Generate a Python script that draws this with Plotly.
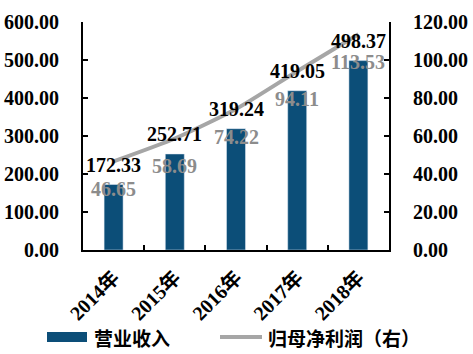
import plotly.graph_objects as go

years = ["2014年", "2015年", "2016年", "2017年", "2018年"]
revenue = [172.33, 252.71, 319.24, 419.05, 498.37]
profit = [46.65, 58.69, 74.22, 94.11, 113.53]
left_ticks = [0, 100, 200, 300, 400, 500, 600]
right_ticks = [0, 20, 40, 60, 80, 100, 120]

BAR = "#0C4E78"
LINE = "#A6A6A6"
NUMF = "Liberation Serif, Times New Roman, serif"
CJKF = "Liberation Serif, Noto Sans CJK SC, serif"

W, H = 473, 354
L, R, T, B = 83, 84, 22, 104
PW, PH = W - L - R, H - T - B

def px(x):
    return (x - L) / PW

def py(y):
    return (H - B - y) / PH

fig = go.Figure()
fig.add_trace(go.Bar(x=years, y=revenue, marker_color=BAR, width=0.31,
                     name="营业收入", showlegend=False))
fig.add_trace(go.Scatter(x=years, y=profit, yaxis="y2", mode="lines",
                         line=dict(color=LINE, width=4, shape="spline", smoothing=0.6),
                         name="归母净利润（右）", showlegend=False))

for yr, v in zip(years, revenue):
    fig.add_annotation(x=yr, y=v, xref="x", yref="y", text=f"<b>{v:.2f}</b>",
                       showarrow=False, yshift=20,
                       font=dict(family=NUMF, size=20, color="#000000"))
for yr, v in zip(years, profit):
    fig.add_annotation(x=yr, y=v, xref="x", yref="y2", text=f"<b>{v:.2f}</b>",
                       showarrow=False, yshift=-28,
                       font=dict(family=NUMF, size=20, color="#8C8C8C"))

# manual legend
fig.add_shape(type="rect", xref="paper", yref="paper",
              x0=px(47), x1=px(87), y0=py(332), y1=py(342),
              fillcolor=BAR, line=dict(width=0))
fig.add_annotation(xref="paper", yref="paper", x=px(92), y=py(337),
                   xanchor="left", yanchor="middle",
                   text="<b>营业收入</b>", showarrow=False,
                   font=dict(family="Noto Sans CJK SC", size=19, color="#000000"))
fig.add_shape(type="line", xref="paper", yref="paper",
              x0=px(220), x1=px(262), y0=py(337), y1=py(337),
              line=dict(color=LINE, width=4))
fig.add_annotation(xref="paper", yref="paper", x=px(266), y=py(337),
                   xanchor="left", yanchor="middle",
                   text="<b>归母净利润（右）</b>", showarrow=False,
                   font=dict(family="Noto Sans CJK SC", size=19, color="#000000"))

axis_font = dict(family=NUMF, size=20, color="#000000")
fig.update_layout(
    width=W, height=H,
    margin=dict(l=L, r=R, t=T, b=B, pad=0, autoexpand=False),
    paper_bgcolor="white", plot_bgcolor="white",
    showlegend=False,
    xaxis=dict(type="category", showline=True, linecolor="black", linewidth=2,
               automargin=False,
               ticks="inside", tickson="boundaries", ticklen=5, tickwidth=2, tickcolor="black",
               tickangle=-45, tickfont=dict(family=CJKF, size=20, color="#000000"),
               ticklabelstandoff=6,
               tickvals=years, ticktext=[f"<b>{y}</b>" for y in years],
               showgrid=False, zeroline=False),
    yaxis=dict(range=[0, 600], tickvals=left_ticks,
               ticktext=[f"<b>{v:.2f}</b>" for v in left_ticks],
               automargin=False,
               showline=True, linecolor="black", linewidth=2,
               ticks="inside", ticklen=5, tickwidth=2, tickcolor="black",
               ticklabelstandoff=18,
               tickfont=axis_font, showgrid=False, zeroline=False),
    yaxis2=dict(range=[0, 120], tickvals=right_ticks,
                ticktext=[f"<b>{v:.2f}</b>" for v in right_ticks],
                overlaying="y", side="right", automargin=False,
                showline=True, linecolor="black", linewidth=2,
                ticks="inside", ticklen=5, tickwidth=2, tickcolor="black",
                ticklabelstandoff=18,
                tickfont=axis_font, showgrid=False, zeroline=False),
)

fig.write_html("out.html")
